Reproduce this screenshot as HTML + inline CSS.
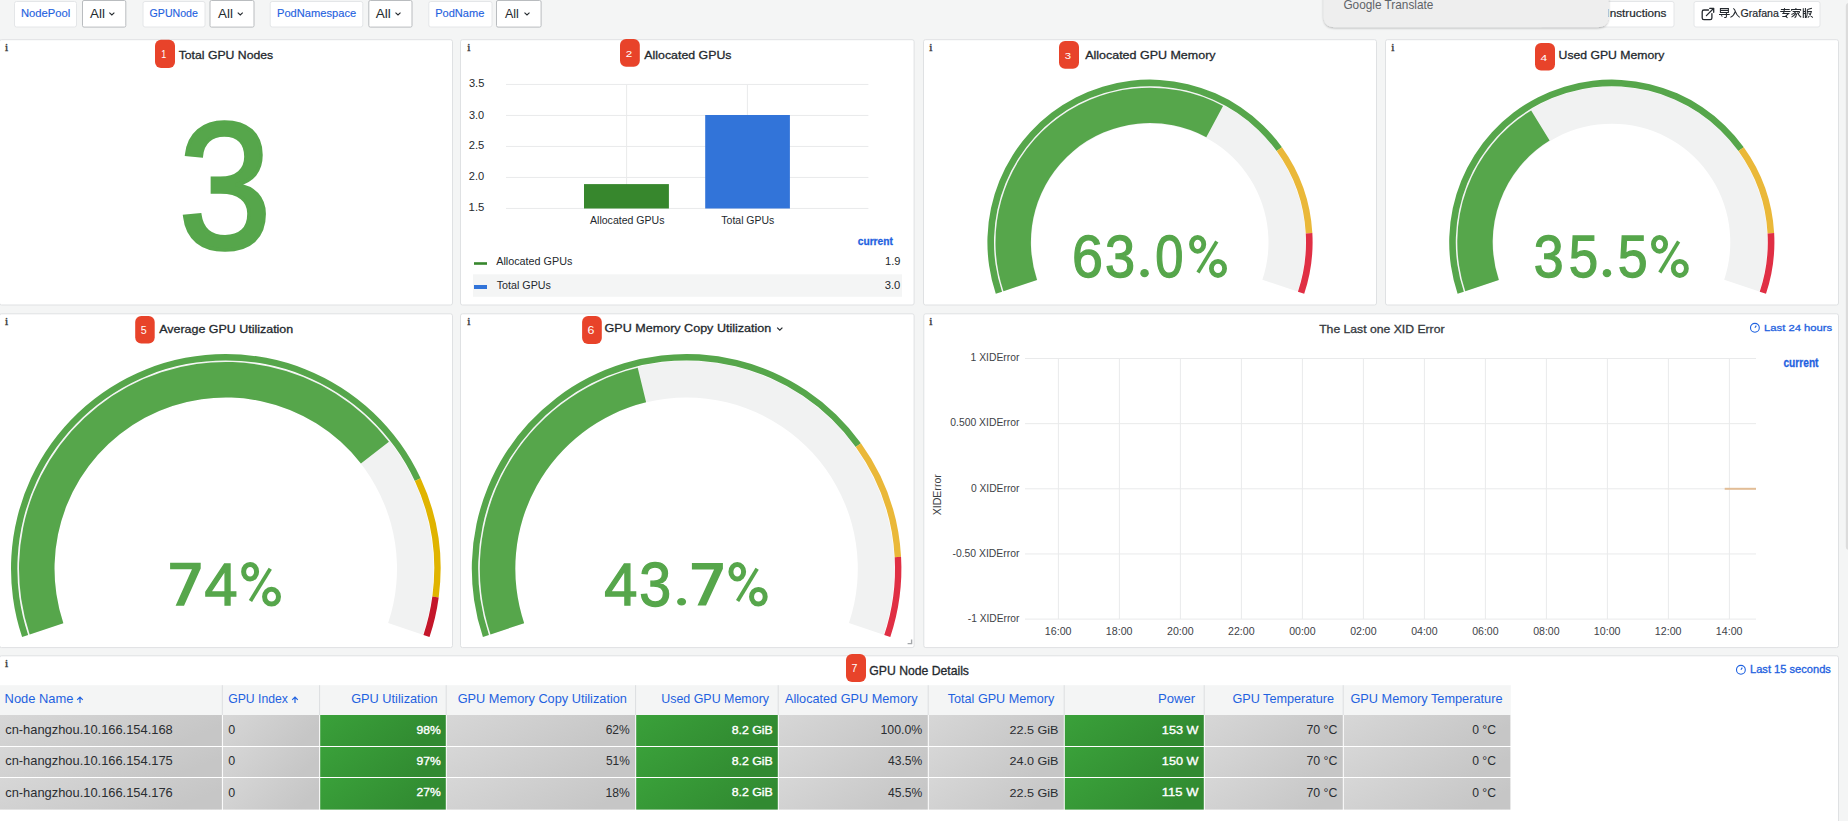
<!DOCTYPE html>
<html><head><meta charset="utf-8"><title>GPU Dashboard</title>
<style>html,body{margin:0;padding:0;width:1848px;height:821px;overflow:hidden;background:#f4f5f5;font-family:"Liberation Sans",sans-serif}svg{display:block}</style>
</head><body>
<svg width="1848" height="821" viewBox="0 0 1848 821">
<rect x="0.00" y="0.00" width="1848.00" height="821.00" rx="0" fill="#f4f5f5" />
<rect x="14.5" y="1.5" width="62" height="25.5" rx="2" fill="#fff" stroke="#e4e6e8" stroke-width="1"/>
<rect x="82.5" y="0.5" width="43.3" height="26.6" rx="1.5" fill="#fff" stroke="#b9bcbf" stroke-width="1"/>
<path d="M109.35 12.7 L111.85 15.0 L114.35 12.7" fill="none" stroke="#24292e" stroke-width="1.1"/>
<rect x="143.0" y="1.5" width="62.0" height="25.5" rx="2" fill="#fff" stroke="#e4e6e8" stroke-width="1"/>
<rect x="210.0" y="0.5" width="44.0" height="26.6" rx="1.5" fill="#fff" stroke="#b9bcbf" stroke-width="1"/>
<path d="M237.75 12.7 L240.25 15.0 L242.75 12.7" fill="none" stroke="#24292e" stroke-width="1.1"/>
<rect x="270.2" y="1.5" width="92.60000000000002" height="25.5" rx="2" fill="#fff" stroke="#e4e6e8" stroke-width="1"/>
<rect x="368.8" y="0.5" width="43.19999999999999" height="26.6" rx="1.5" fill="#fff" stroke="#b9bcbf" stroke-width="1"/>
<path d="M395.50 12.7 L398.00 15.0 L400.50 12.7" fill="none" stroke="#24292e" stroke-width="1.1"/>
<rect x="428.8" y="1.5" width="63.19999999999999" height="25.5" rx="2" fill="#fff" stroke="#e4e6e8" stroke-width="1"/>
<rect x="496.5" y="0.5" width="44.60000000000002" height="26.6" rx="1.5" fill="#fff" stroke="#b9bcbf" stroke-width="1"/>
<path d="M524.50 12.7 L527.00 15.0 L529.50 12.7" fill="none" stroke="#24292e" stroke-width="1.1"/>
<rect x="1540.5" y="1.5" width="133.5" height="25.5" rx="2" fill="#fff" stroke="#e4e6e8"/>
<rect x="1694" y="1.5" width="126" height="25.5" rx="2" fill="#fff" stroke="#e4e6e8"/>
<g fill="none" stroke="#24292e" stroke-width="1.3" stroke-linecap="round" stroke-linejoin="round"><path d="M1708.5 10 H1703.9 Q1702.2 10 1702.2 11.7 V17.9 Q1702.2 19.6 1703.9 19.6 H1710.2 Q1711.9 19.6 1711.9 17.9 V13.6"/><path d="M1706.4 15.6 L1713.5 8.5 M1709.7 8.3 H1713.7 V12.3"/></g>
<g fill="none" stroke="#24292e" stroke-width="1.05" stroke-linecap="butt" stroke-linejoin="miter"><path d="M1720.4 8.6 H1728.4 V12.4 H1720.4 Z M1720.4 10.5 H1728.4 M1719 14.4 H1729.7 M1726.4 12.6 V16.8 Q1726.4 17.4 1725.8 17.4 H1724.2 M1721.2 15.3 L1722.4 16.5"/><path d="M1733.3 8.4 Q1735 9.5 1735.3 11.4 Q1734.2 15.4 1730.4 17.4 M1735.3 11.4 Q1736.6 15.2 1739.7 17.4"/><path d="M1780.9 9.4 H1789.7 M1780.2 11.4 H1790.5 M1784.6 8.2 L1783.6 13.4 M1782.3 13.4 H1788.7 L1785.4 16.4 M1782.3 16.5 H1787 M1785.6 16.4 L1787.6 17.9"/><path d="M1795.9 8.1 V9.4 M1791.6 10.8 V9.4 H1800.6 V10.8 M1792.6 11.5 H1799.8 M1795.8 11.5 Q1794.3 13.6 1791.4 14.5 M1796.2 12.9 Q1794 15.9 1791.5 17.1 M1796.6 13.6 Q1796.2 17 1794.6 17.8 M1797.3 12.6 Q1798.8 15.6 1801.2 17.2 M1799.8 12.2 L1798.4 13.4"/><path d="M1803.3 8.3 V17.9 M1805.4 8.0 V17.9 M1803.3 11.4 H1805.4 M1803.3 13.5 H1806.1 M1807.4 9.4 L1811.9 8.3 M1807.3 9.4 V13 Q1807.1 16.4 1805.9 17.8 M1807.3 11.4 H1811.4 Q1810.9 15.2 1807.8 17.7 M1808.6 12.6 Q1810.3 16.3 1812.9 17.6"/></g>
<defs><filter id="sh" x="-10%" y="-50%" width="120%" height="200%"><feDropShadow dx="0" dy="1" stdDeviation="1.2" flood-color="#000" flood-opacity="0.28"/></filter></defs>
<rect x="1845.8" y="3" width="6" height="546.7" rx="3" fill="#dcdcdc"/>
<rect x="-0.5" y="39.7" width="453" height="265.3" rx="2" fill="#fff" stroke="#dfe1e3"/>
<rect x="460.5" y="39.7" width="453.6" height="265.3" rx="2" fill="#fff" stroke="#dfe1e3"/>
<rect x="923.5" y="39.7" width="453" height="265.3" rx="2" fill="#fff" stroke="#dfe1e3"/>
<rect x="1385.5" y="39.7" width="453" height="265.3" rx="2" fill="#fff" stroke="#dfe1e3"/>
<rect x="-0.5" y="313.8" width="453" height="333.8" rx="2" fill="#fff" stroke="#dfe1e3"/>
<rect x="460.5" y="313.8" width="453.6" height="333.8" rx="2" fill="#fff" stroke="#dfe1e3"/>
<rect x="923.8" y="313.8" width="914.7" height="333.8" rx="2" fill="#fff" stroke="#dfe1e3"/>
<rect x="-0.5" y="655.8" width="1839" height="173.70000000000005" rx="2" fill="#fff" stroke="#dfe1e3"/>
<path d="M777.2 327.6 L779.8 330.2 L782.4 327.6" fill="none" stroke="#24292e" stroke-width="1.2"/>
<line x1="506" y1="84.45" x2="868.4" y2="84.45" stroke="#e9eaeb" stroke-width="1"/>
<line x1="506" y1="115.45" x2="868.4" y2="115.45" stroke="#e9eaeb" stroke-width="1"/>
<line x1="506" y1="146.45" x2="868.4" y2="146.45" stroke="#e9eaeb" stroke-width="1"/>
<line x1="506" y1="177.45" x2="868.4" y2="177.45" stroke="#e9eaeb" stroke-width="1"/>
<line x1="506" y1="208.45" x2="868.4" y2="208.45" stroke="#e9eaeb" stroke-width="1"/>
<line x1="626.6" y1="84.45" x2="626.6" y2="208.45" stroke="#e9eaeb" stroke-width="1"/>
<line x1="747.4" y1="84.45" x2="747.4" y2="208.45" stroke="#e9eaeb" stroke-width="1"/>
<rect x="584.00" y="184.10" width="84.90" height="24.40" rx="0" fill="#37872d" />
<rect x="705.20" y="115.00" width="84.70" height="93.50" rx="0" fill="#3274d9" />
<rect x="474.00" y="262.20" width="13.00" height="2.60" rx="0" fill="#37872d" />
<rect x="473.00" y="274.30" width="429.00" height="22.50" rx="0" fill="#f4f5f5" />
<rect x="474.00" y="285.00" width="13.00" height="4.00" rx="0" fill="#3274d9" />
<path d="M1002.44 291.57 A155.6 155.6 0 1 1 1297.56 291.57 L1262.38 279.80 A118.5 118.5 0 1 0 1037.62 279.80 Z" fill="#f1f2f2"/>
<path d="M1003.48 291.22 A154.5 154.5 0 0 1 1223.03 106.05 L1206.30 137.25 A119.1 119.1 0 0 0 1037.05 279.99 Z" fill="#56a64b"/>
<path d="M995.80 293.79 A162.6 162.6 0 0 1 1281.96 147.20 L1276.61 151.06 A156.0 156.0 0 0 0 1002.06 291.70 Z" fill="#56a64b"/>
<path d="M1281.96 147.20 A162.6 162.6 0 0 1 1312.35 233.12 L1305.76 233.49 A156.0 156.0 0 0 0 1276.61 151.06 Z" fill="#eab839"/>
<path d="M1312.35 233.12 A162.6 162.6 0 0 1 1304.20 293.79 L1297.94 291.70 A156.0 156.0 0 0 0 1305.76 233.49 Z" fill="#e02f44"/>
<path d="M1464.24 291.57 A155.6 155.6 0 1 1 1759.36 291.57 L1724.18 279.80 A118.5 118.5 0 1 0 1499.42 279.80 Z" fill="#f1f2f2"/>
<path d="M1465.28 291.22 A154.5 154.5 0 0 1 1531.15 110.42 L1549.63 140.61 A119.1 119.1 0 0 0 1498.85 279.99 Z" fill="#56a64b"/>
<path d="M1457.60 293.79 A162.6 162.6 0 0 1 1743.76 147.20 L1738.41 151.06 A156.0 156.0 0 0 0 1463.86 291.70 Z" fill="#56a64b"/>
<path d="M1743.76 147.20 A162.6 162.6 0 0 1 1774.15 233.12 L1767.56 233.49 A156.0 156.0 0 0 0 1738.41 151.06 Z" fill="#eab839"/>
<path d="M1774.15 233.12 A162.6 162.6 0 0 1 1766.00 293.79 L1759.74 291.70 A156.0 156.0 0 0 0 1767.56 233.49 Z" fill="#e02f44"/>
<path d="M28.74 634.74 A207.8 207.8 0 1 1 422.86 634.74 L388.15 623.12 A171.2 171.2 0 1 0 63.45 623.12 Z" fill="#f1f2f2"/>
<path d="M29.69 634.42 A206.8 206.8 0 0 1 388.94 441.71 L360.93 463.53 A171.3 171.3 0 0 0 63.35 623.15 Z" fill="#56a64b"/>
<path d="M22.10 636.96 A214.8 214.8 0 0 1 420.63 478.36 L414.83 481.06 A208.4 208.4 0 0 0 28.17 634.93 Z" fill="#56a64b"/>
<path d="M420.63 478.36 A214.8 214.8 0 0 1 438.69 597.39 L432.35 596.54 A208.4 208.4 0 0 0 414.83 481.06 Z" fill="#e0b400"/>
<path d="M438.69 597.39 A214.8 214.8 0 0 1 429.50 636.96 L423.43 634.93 A208.4 208.4 0 0 0 432.35 596.54 Z" fill="#c4162a"/>
<path d="M489.54 634.74 A207.8 207.8 0 1 1 883.66 634.74 L848.95 623.12 A171.2 171.2 0 1 0 524.25 623.12 Z" fill="#f1f2f2"/>
<path d="M490.49 634.42 A206.8 206.8 0 0 1 637.72 367.86 L646.11 402.35 A171.3 171.3 0 0 0 524.15 623.15 Z" fill="#56a64b"/>
<path d="M482.90 636.96 A214.8 214.8 0 0 1 860.93 443.30 L855.73 447.04 A208.4 208.4 0 0 0 488.97 634.93 Z" fill="#56a64b"/>
<path d="M860.93 443.30 A214.8 214.8 0 0 1 901.07 556.81 L894.68 557.17 A208.4 208.4 0 0 0 855.73 447.04 Z" fill="#eab839"/>
<path d="M901.07 556.81 A214.8 214.8 0 0 1 890.30 636.96 L884.23 634.93 A208.4 208.4 0 0 0 894.68 557.17 Z" fill="#e02f44"/>
<ellipse cx="1144.55" cy="273.15" rx="4.25" ry="4.15" fill="#56a64b"/>
<ellipse cx="1197.64" cy="244.30" rx="6.13" ry="6.99" fill="none" stroke="#56a64b" stroke-width="4.82"/>
<ellipse cx="1218.00" cy="268.40" rx="6.59" ry="7.09" fill="none" stroke="#56a64b" stroke-width="4.82"/>
<line x1="1197.97" y1="272.48" x2="1216.80" y2="241.48" stroke="#56a64b" stroke-width="3.65"/>
<ellipse cx="1606.95" cy="273.15" rx="4.25" ry="4.15" fill="#56a64b"/>
<ellipse cx="1659.52" cy="244.30" rx="6.11" ry="6.99" fill="none" stroke="#56a64b" stroke-width="4.82"/>
<ellipse cx="1679.83" cy="268.40" rx="6.56" ry="7.09" fill="none" stroke="#56a64b" stroke-width="4.82"/>
<line x1="1659.84" y1="272.48" x2="1678.63" y2="241.48" stroke="#56a64b" stroke-width="3.65"/>
<polygon points="170.10,562.80 200.70,562.80 200.70,568.59 184.02,605.70 175.61,605.70 191.98,569.24 170.10,569.24" fill="#56a64b"/>
<ellipse cx="250.11" cy="571.67" rx="6.48" ry="7.26" fill="none" stroke="#56a64b" stroke-width="5.01"/>
<ellipse cx="271.53" cy="596.72" rx="6.96" ry="7.38" fill="none" stroke="#56a64b" stroke-width="5.01"/>
<line x1="250.45" y1="600.97" x2="270.27" y2="568.74" stroke="#56a64b" stroke-width="3.80"/>
<ellipse cx="681.60" cy="601.80" rx="4.50" ry="3.80" fill="#56a64b"/>
<polygon points="691.90,563.00 722.90,563.00 722.90,568.75 706.00,605.60 697.48,605.60 714.06,569.39 691.90,569.39" fill="#56a64b"/>
<ellipse cx="737.27" cy="571.75" rx="6.35" ry="7.25" fill="none" stroke="#56a64b" stroke-width="5.00"/>
<ellipse cx="758.37" cy="596.74" rx="6.83" ry="7.36" fill="none" stroke="#56a64b" stroke-width="5.00"/>
<line x1="737.60" y1="600.98" x2="757.13" y2="568.82" stroke="#56a64b" stroke-width="3.79"/>
<path d="M907.6 643.6 H911.6 V639.4" fill="none" stroke="#a4a7aa" stroke-width="1.4"/>
<line x1="1025" y1="358.5" x2="1756" y2="358.5" stroke="#e9eaeb" stroke-width="1"/>
<line x1="1025" y1="423.65" x2="1756" y2="423.65" stroke="#e9eaeb" stroke-width="1"/>
<line x1="1025" y1="488.8" x2="1756" y2="488.8" stroke="#e9eaeb" stroke-width="1"/>
<line x1="1025" y1="553.95" x2="1756" y2="553.95" stroke="#e9eaeb" stroke-width="1"/>
<line x1="1025" y1="619.1" x2="1756" y2="619.1" stroke="#e9eaeb" stroke-width="1"/>
<line x1="1058.40" y1="358.5" x2="1058.40" y2="619.1" stroke="#e9eaeb" stroke-width="1"/>
<line x1="1119.40" y1="358.5" x2="1119.40" y2="619.1" stroke="#e9eaeb" stroke-width="1"/>
<line x1="1180.40" y1="358.5" x2="1180.40" y2="619.1" stroke="#e9eaeb" stroke-width="1"/>
<line x1="1241.40" y1="358.5" x2="1241.40" y2="619.1" stroke="#e9eaeb" stroke-width="1"/>
<line x1="1302.40" y1="358.5" x2="1302.40" y2="619.1" stroke="#e9eaeb" stroke-width="1"/>
<line x1="1363.40" y1="358.5" x2="1363.40" y2="619.1" stroke="#e9eaeb" stroke-width="1"/>
<line x1="1424.40" y1="358.5" x2="1424.40" y2="619.1" stroke="#e9eaeb" stroke-width="1"/>
<line x1="1485.40" y1="358.5" x2="1485.40" y2="619.1" stroke="#e9eaeb" stroke-width="1"/>
<line x1="1546.40" y1="358.5" x2="1546.40" y2="619.1" stroke="#e9eaeb" stroke-width="1"/>
<line x1="1607.40" y1="358.5" x2="1607.40" y2="619.1" stroke="#e9eaeb" stroke-width="1"/>
<line x1="1668.40" y1="358.5" x2="1668.40" y2="619.1" stroke="#e9eaeb" stroke-width="1"/>
<line x1="1729.40" y1="358.5" x2="1729.40" y2="619.1" stroke="#e9eaeb" stroke-width="1"/>
<line x1="1724.7" y1="488.8" x2="1756" y2="488.8" stroke="#e2bd96" stroke-width="2"/>
<g fill="none" stroke="#1f62e0" stroke-width="1.1"><circle cx="1754.9" cy="327.8" r="4.4"/><path d="M1754.9 327.8 L1756.3 325.6"/></g>
<g fill="none" stroke="#1f62e0" stroke-width="1.1"><circle cx="1740.9" cy="669.8" r="4.4"/><path d="M1740.9 669.8 L1742.3 667.6"/></g>
<rect x="0.00" y="685.20" width="1510.80" height="29.80" rx="0" fill="#f4f5f5" />
<defs><linearGradient id="gg" x1="0" y1="0" x2="1" y2="0.35"><stop offset="0" stop-color="#3aa13a"/><stop offset="1" stop-color="#318a31"/></linearGradient><linearGradient id="gy" x1="0" y1="0" x2="1" y2="0.35"><stop offset="0" stop-color="#d7d7d7"/><stop offset="1" stop-color="#c6c6c6"/></linearGradient></defs>
<rect x="0.00" y="715.00" width="221.90" height="31.00" rx="0" fill="url(#gy)" />
<rect x="222.90" y="715.00" width="96.30" height="31.00" rx="0" fill="url(#gy)" />
<rect x="320.20" y="715.00" width="125.60" height="31.00" rx="0" fill="url(#gg)" />
<rect x="446.80" y="715.00" width="188.40" height="31.00" rx="0" fill="url(#gy)" />
<rect x="636.20" y="715.00" width="141.60" height="31.00" rx="0" fill="url(#gg)" />
<rect x="778.80" y="715.00" width="149.00" height="31.00" rx="0" fill="url(#gy)" />
<rect x="928.80" y="715.00" width="135.00" height="31.00" rx="0" fill="url(#gy)" />
<rect x="1064.80" y="715.00" width="139.00" height="31.00" rx="0" fill="url(#gg)" />
<rect x="1204.80" y="715.00" width="138.00" height="31.00" rx="0" fill="url(#gy)" />
<rect x="1343.80" y="715.00" width="166.60" height="31.00" rx="0" fill="url(#gy)" />
<rect x="0.00" y="747.00" width="221.90" height="30.00" rx="0" fill="url(#gy)" />
<rect x="222.90" y="747.00" width="96.30" height="30.00" rx="0" fill="url(#gy)" />
<rect x="320.20" y="747.00" width="125.60" height="30.00" rx="0" fill="url(#gg)" />
<rect x="446.80" y="747.00" width="188.40" height="30.00" rx="0" fill="url(#gy)" />
<rect x="636.20" y="747.00" width="141.60" height="30.00" rx="0" fill="url(#gg)" />
<rect x="778.80" y="747.00" width="149.00" height="30.00" rx="0" fill="url(#gy)" />
<rect x="928.80" y="747.00" width="135.00" height="30.00" rx="0" fill="url(#gy)" />
<rect x="1064.80" y="747.00" width="139.00" height="30.00" rx="0" fill="url(#gg)" />
<rect x="1204.80" y="747.00" width="138.00" height="30.00" rx="0" fill="url(#gy)" />
<rect x="1343.80" y="747.00" width="166.60" height="30.00" rx="0" fill="url(#gy)" />
<rect x="0.00" y="778.00" width="221.90" height="31.60" rx="0" fill="url(#gy)" />
<rect x="222.90" y="778.00" width="96.30" height="31.60" rx="0" fill="url(#gy)" />
<rect x="320.20" y="778.00" width="125.60" height="31.60" rx="0" fill="url(#gg)" />
<rect x="446.80" y="778.00" width="188.40" height="31.60" rx="0" fill="url(#gy)" />
<rect x="636.20" y="778.00" width="141.60" height="31.60" rx="0" fill="url(#gg)" />
<rect x="778.80" y="778.00" width="149.00" height="31.60" rx="0" fill="url(#gy)" />
<rect x="928.80" y="778.00" width="135.00" height="31.60" rx="0" fill="url(#gy)" />
<rect x="1064.80" y="778.00" width="139.00" height="31.60" rx="0" fill="url(#gg)" />
<rect x="1204.80" y="778.00" width="138.00" height="31.60" rx="0" fill="url(#gy)" />
<rect x="1343.80" y="778.00" width="166.60" height="31.60" rx="0" fill="url(#gy)" />
<line x1="222.3" y1="685.2" x2="222.3" y2="715" stroke="#dcdee0" stroke-width="1"/>
<line x1="319.6" y1="685.2" x2="319.6" y2="715" stroke="#dcdee0" stroke-width="1"/>
<line x1="446.2" y1="685.2" x2="446.2" y2="715" stroke="#dcdee0" stroke-width="1"/>
<line x1="635.6" y1="685.2" x2="635.6" y2="715" stroke="#dcdee0" stroke-width="1"/>
<line x1="778.2" y1="685.2" x2="778.2" y2="715" stroke="#dcdee0" stroke-width="1"/>
<line x1="928.2" y1="685.2" x2="928.2" y2="715" stroke="#dcdee0" stroke-width="1"/>
<line x1="1064.2" y1="685.2" x2="1064.2" y2="715" stroke="#dcdee0" stroke-width="1"/>
<line x1="1204.2" y1="685.2" x2="1204.2" y2="715" stroke="#dcdee0" stroke-width="1"/>
<line x1="1343.2" y1="685.2" x2="1343.2" y2="715" stroke="#dcdee0" stroke-width="1"/>
<g fill="none" stroke="#1f62e0" stroke-width="1.2"><path d="M80 703 V697.2 M77.2 699.8 L80 697 L82.8 699.8"/></g>
<g fill="none" stroke="#1f62e0" stroke-width="1.2"><path d="M295 703 V697.2 M292.2 699.8 L295 697 L297.8 699.8"/></g>
<rect x="155.00" y="39.75" width="20.00" height="28.15" rx="6" fill="#e8432a" />
<rect x="620.00" y="38.90" width="19.80" height="27.90" rx="6" fill="#e8432a" />
<rect x="1059.00" y="41.00" width="20.00" height="27.80" rx="6" fill="#e8432a" />
<rect x="1535.00" y="43.00" width="20.00" height="27.50" rx="6" fill="#e8432a" />
<rect x="135.20" y="316.00" width="19.50" height="27.60" rx="6" fill="#e8432a" />
<rect x="582.10" y="316.00" width="19.70" height="27.90" rx="6" fill="#e8432a" />
<rect x="846.00" y="654.00" width="20.00" height="27.90" rx="6" fill="#e8432a" />
<text x="20.90" y="16.93" font-family="Liberation Sans" font-size="11.779" fill="#1f62e0" stroke="#1f62e0" stroke-width="0.15" textLength="49.27" lengthAdjust="spacingAndGlyphs">NodePool</text>
<text x="90.00" y="17.90" font-family="Liberation Sans" font-size="13.685" fill="#24292e" textLength="14.88" lengthAdjust="spacingAndGlyphs">All</text>
<text x="149.58" y="16.93" font-family="Liberation Sans" font-size="11.779" fill="#1f62e0" stroke="#1f62e0" stroke-width="0.15" textLength="48.28" lengthAdjust="spacingAndGlyphs">GPUNode</text>
<text x="218.00" y="17.90" font-family="Liberation Sans" font-size="13.685" fill="#24292e" textLength="14.88" lengthAdjust="spacingAndGlyphs">All</text>
<text x="277.01" y="16.93" font-family="Liberation Sans" font-size="11.779" fill="#1f62e0" stroke="#1f62e0" stroke-width="0.15" textLength="79.17" lengthAdjust="spacingAndGlyphs">PodNamespace</text>
<text x="375.80" y="17.90" font-family="Liberation Sans" font-size="13.685" fill="#24292e" textLength="15.10" lengthAdjust="spacingAndGlyphs">All</text>
<text x="435.21" y="16.93" font-family="Liberation Sans" font-size="11.779" fill="#1f62e0" stroke="#1f62e0" stroke-width="0.15" textLength="49.16" lengthAdjust="spacingAndGlyphs">PodName</text>
<text x="505.00" y="17.90" font-family="Liberation Sans" font-size="13.685" fill="#24292e" textLength="13.82" lengthAdjust="spacingAndGlyphs">All</text>
<text x="1606.38" y="16.60" font-family="Liberation Sans" font-size="10.621" fill="#24292e" stroke="#24292e" stroke-width="0.2" textLength="60.09" lengthAdjust="spacingAndGlyphs">Instructions</text>
<text x="1740.60" y="16.75" font-family="Liberation Sans" font-size="11.697" fill="#24292e" stroke="#24292e" stroke-width="0.2" textLength="38.23" lengthAdjust="spacingAndGlyphs">Grafana</text>
<text x="4.90" y="50.83" font-family="Liberation Serif" font-size="9.898" fill="#3a3a3a" stroke="#3a3a3a" stroke-width="0.35" textLength="3.17" lengthAdjust="spacingAndGlyphs">i</text>
<text x="467.20" y="50.83" font-family="Liberation Serif" font-size="9.898" fill="#3a3a3a" stroke="#3a3a3a" stroke-width="0.35" textLength="3.17" lengthAdjust="spacingAndGlyphs">i</text>
<text x="929.20" y="50.83" font-family="Liberation Serif" font-size="9.898" fill="#3a3a3a" stroke="#3a3a3a" stroke-width="0.35" textLength="3.17" lengthAdjust="spacingAndGlyphs">i</text>
<text x="1391.20" y="50.83" font-family="Liberation Serif" font-size="9.898" fill="#3a3a3a" stroke="#3a3a3a" stroke-width="0.35" textLength="3.17" lengthAdjust="spacingAndGlyphs">i</text>
<text x="4.90" y="324.82" font-family="Liberation Serif" font-size="9.898" fill="#3a3a3a" stroke="#3a3a3a" stroke-width="0.35" textLength="3.17" lengthAdjust="spacingAndGlyphs">i</text>
<text x="467.20" y="324.82" font-family="Liberation Serif" font-size="9.898" fill="#3a3a3a" stroke="#3a3a3a" stroke-width="0.35" textLength="3.17" lengthAdjust="spacingAndGlyphs">i</text>
<text x="929.20" y="325.43" font-family="Liberation Serif" font-size="9.898" fill="#3a3a3a" stroke="#3a3a3a" stroke-width="0.35" textLength="3.17" lengthAdjust="spacingAndGlyphs">i</text>
<text x="4.90" y="666.83" font-family="Liberation Serif" font-size="9.898" fill="#3a3a3a" stroke="#3a3a3a" stroke-width="0.35" textLength="3.17" lengthAdjust="spacingAndGlyphs">i</text>
<text x="161.13" y="57.80" font-family="Liberation Sans" font-size="11.093" fill="#fff" textLength="5.03" lengthAdjust="spacingAndGlyphs">1</text>
<text x="625.71" y="56.70" font-family="Liberation Sans" font-size="9.884" fill="#fff" textLength="6.47" lengthAdjust="spacingAndGlyphs">2</text>
<text x="1064.65" y="59.00" font-family="Liberation Sans" font-size="9.956" fill="#fff" textLength="6.32" lengthAdjust="spacingAndGlyphs">3</text>
<text x="1540.61" y="60.80" font-family="Liberation Sans" font-size="9.671" fill="#fff" textLength="6.69" lengthAdjust="spacingAndGlyphs">4</text>
<text x="140.66" y="333.90" font-family="Liberation Sans" font-size="10.382" fill="#fff" textLength="5.97" lengthAdjust="spacingAndGlyphs">5</text>
<text x="587.42" y="333.80" font-family="Liberation Sans" font-size="10.098" fill="#fff" textLength="6.88" lengthAdjust="spacingAndGlyphs">6</text>
<text x="851.40" y="671.90" font-family="Liberation Sans" font-size="11.591" fill="#fff" textLength="5.93" lengthAdjust="spacingAndGlyphs">7</text>
<text x="178.71" y="58.55" font-family="Liberation Sans" font-size="11.779" fill="#24292e" stroke="#24292e" stroke-width="0.3" textLength="94.52" lengthAdjust="spacingAndGlyphs">Total GPU Nodes</text>
<text x="644.35" y="58.55" font-family="Liberation Sans" font-size="11.779" fill="#24292e" stroke="#24292e" stroke-width="0.3" textLength="87.14" lengthAdjust="spacingAndGlyphs">Allocated GPUs</text>
<text x="1085.15" y="58.65" font-family="Liberation Sans" font-size="11.574" fill="#24292e" stroke="#24292e" stroke-width="0.3" textLength="130.40" lengthAdjust="spacingAndGlyphs">Allocated GPU Memory</text>
<text x="1558.59" y="58.55" font-family="Liberation Sans" font-size="11.779" fill="#24292e" stroke="#24292e" stroke-width="0.3" textLength="105.86" lengthAdjust="spacingAndGlyphs">Used GPU Memory</text>
<text x="159.15" y="332.75" font-family="Liberation Sans" font-size="11.574" fill="#24292e" stroke="#24292e" stroke-width="0.3" textLength="134.10" lengthAdjust="spacingAndGlyphs">Average GPU Utilization</text>
<text x="604.56" y="332.45" font-family="Liberation Sans" font-size="11.302" fill="#24292e" stroke="#24292e" stroke-width="0.3" textLength="166.79" lengthAdjust="spacingAndGlyphs">GPU Memory Copy Utilization</text>
<text x="1319.16" y="332.60" font-family="Liberation Sans" font-size="11.234" fill="#34383d" stroke="#34383d" stroke-width="0.3" textLength="125.35" lengthAdjust="spacingAndGlyphs">The Last one XID Error</text>
<text x="869.33" y="674.60" font-family="Liberation Sans" font-size="12.051" fill="#24292e" stroke="#24292e" stroke-width="0.3" textLength="99.65" lengthAdjust="spacingAndGlyphs">GPU Node Details</text>
<text x="178.25" y="248.20" font-family="Liberation Sans" font-size="180.196" fill="#56a64b" stroke="#56a64b" stroke-width="3.6" textLength="93.35" lengthAdjust="spacingAndGlyphs">3</text>
<text x="468.95" y="86.80" font-family="Liberation Sans" font-size="10.809" fill="#24292e" textLength="15.39" lengthAdjust="spacingAndGlyphs">3.5</text>
<text x="468.96" y="118.70" font-family="Liberation Sans" font-size="11.093" fill="#24292e" textLength="15.21" lengthAdjust="spacingAndGlyphs">3.0</text>
<text x="468.77" y="148.70" font-family="Liberation Sans" font-size="10.951" fill="#24292e" textLength="15.58" lengthAdjust="spacingAndGlyphs">2.5</text>
<text x="468.78" y="179.80" font-family="Liberation Sans" font-size="11.520" fill="#24292e" textLength="15.39" lengthAdjust="spacingAndGlyphs">2.0</text>
<text x="468.59" y="210.60" font-family="Liberation Sans" font-size="11.520" fill="#24292e" textLength="15.77" lengthAdjust="spacingAndGlyphs">1.5</text>
<text x="590.00" y="224.00" font-family="Liberation Sans" font-size="10.894" fill="#24292e" textLength="74.53" lengthAdjust="spacingAndGlyphs">Allocated GPUs</text>
<text x="721.34" y="224.00" font-family="Liberation Sans" font-size="10.894" fill="#24292e" textLength="52.99" lengthAdjust="spacingAndGlyphs">Total GPUs</text>
<text x="857.73" y="244.95" font-family="Liberation Sans" font-size="10.971" fill="#1f62e0" font-weight="bold" stroke="#1f62e0" stroke-width="0.3" textLength="35.17" lengthAdjust="spacingAndGlyphs">current</text>
<text x="496.25" y="265.00" font-family="Liberation Sans" font-size="10.553" fill="#24292e" textLength="76.09" lengthAdjust="spacingAndGlyphs">Allocated GPUs</text>
<text x="885.01" y="264.80" font-family="Liberation Sans" font-size="10.667" fill="#24292e" textLength="15.44" lengthAdjust="spacingAndGlyphs">1.9</text>
<text x="496.73" y="288.75" font-family="Liberation Sans" font-size="11.098" fill="#24292e" textLength="54.20" lengthAdjust="spacingAndGlyphs">Total GPUs</text>
<text x="884.65" y="288.70" font-family="Liberation Sans" font-size="10.951" fill="#24292e" textLength="15.63" lengthAdjust="spacingAndGlyphs">3.0</text>
<text x="1071.94" y="277.25" font-family="Liberation Sans" font-size="59.307" fill="#56a64b" stroke="#56a64b" stroke-width="1.3" textLength="30.97" lengthAdjust="spacingAndGlyphs">6</text>
<text x="1104.96" y="277.25" font-family="Liberation Sans" font-size="59.307" fill="#56a64b" stroke="#56a64b" stroke-width="1.3" textLength="30.08" lengthAdjust="spacingAndGlyphs">3</text>
<text x="1155.17" y="277.25" font-family="Liberation Sans" font-size="59.307" fill="#56a64b" stroke="#56a64b" stroke-width="1.3" textLength="28.14" lengthAdjust="spacingAndGlyphs">0</text>
<text x="1533.87" y="277.25" font-family="Liberation Sans" font-size="59.307" fill="#56a64b" stroke="#56a64b" stroke-width="1.3" textLength="29.85" lengthAdjust="spacingAndGlyphs">3</text>
<text x="1568.70" y="277.25" font-family="Liberation Sans" font-size="58.453" fill="#56a64b" stroke="#56a64b" stroke-width="1.3" textLength="29.39" lengthAdjust="spacingAndGlyphs">5</text>
<text x="1617.67" y="277.25" font-family="Liberation Sans" font-size="58.453" fill="#56a64b" stroke="#56a64b" stroke-width="1.3" textLength="29.85" lengthAdjust="spacingAndGlyphs">5</text>
<text x="204.52" y="605.05" font-family="Liberation Sans" font-size="59.164" fill="#56a64b" stroke="#56a64b" stroke-width="1.3" textLength="33.01" lengthAdjust="spacingAndGlyphs">4</text>
<text x="604.22" y="604.95" font-family="Liberation Sans" font-size="58.738" fill="#56a64b" stroke="#56a64b" stroke-width="1.3" textLength="33.11" lengthAdjust="spacingAndGlyphs">4</text>
<text x="639.36" y="606.35" font-family="Liberation Sans" font-size="62.151" fill="#56a64b" stroke="#56a64b" stroke-width="1.3" textLength="31.92" lengthAdjust="spacingAndGlyphs">3</text>
<text x="970.60" y="361.30" font-family="Liberation Sans" font-size="11.804" fill="#3d4247" textLength="48.85" lengthAdjust="spacingAndGlyphs">1 XIDError</text>
<text x="950.28" y="426.45" font-family="Liberation Sans" font-size="11.804" fill="#3d4247" textLength="69.17" lengthAdjust="spacingAndGlyphs">0.500 XIDError</text>
<text x="970.88" y="491.60" font-family="Liberation Sans" font-size="11.804" fill="#3d4247" textLength="48.57" lengthAdjust="spacingAndGlyphs">0 XIDError</text>
<text x="952.43" y="556.75" font-family="Liberation Sans" font-size="11.804" fill="#3d4247" textLength="67.03" lengthAdjust="spacingAndGlyphs">-0.50 XIDError</text>
<text x="967.78" y="621.90" font-family="Liberation Sans" font-size="11.804" fill="#3d4247" textLength="51.67" lengthAdjust="spacingAndGlyphs">-1 XIDError</text>
<text x="1044.83" y="635.00" font-family="Liberation Sans" font-size="11.520" fill="#3d4247" textLength="26.73" lengthAdjust="spacingAndGlyphs">16:00</text>
<text x="1105.83" y="635.00" font-family="Liberation Sans" font-size="11.520" fill="#3d4247" textLength="26.73" lengthAdjust="spacingAndGlyphs">18:00</text>
<text x="1167.00" y="635.00" font-family="Liberation Sans" font-size="11.520" fill="#3d4247" textLength="26.56" lengthAdjust="spacingAndGlyphs">20:00</text>
<text x="1228.00" y="635.00" font-family="Liberation Sans" font-size="11.520" fill="#3d4247" textLength="26.56" lengthAdjust="spacingAndGlyphs">22:00</text>
<text x="1289.17" y="635.00" font-family="Liberation Sans" font-size="11.520" fill="#3d4247" textLength="26.39" lengthAdjust="spacingAndGlyphs">00:00</text>
<text x="1350.17" y="635.00" font-family="Liberation Sans" font-size="11.520" fill="#3d4247" textLength="26.39" lengthAdjust="spacingAndGlyphs">02:00</text>
<text x="1411.17" y="635.00" font-family="Liberation Sans" font-size="11.520" fill="#3d4247" textLength="26.39" lengthAdjust="spacingAndGlyphs">04:00</text>
<text x="1472.17" y="635.00" font-family="Liberation Sans" font-size="11.520" fill="#3d4247" textLength="26.39" lengthAdjust="spacingAndGlyphs">06:00</text>
<text x="1533.17" y="635.00" font-family="Liberation Sans" font-size="11.520" fill="#3d4247" textLength="26.39" lengthAdjust="spacingAndGlyphs">08:00</text>
<text x="1593.83" y="635.00" font-family="Liberation Sans" font-size="11.520" fill="#3d4247" textLength="26.73" lengthAdjust="spacingAndGlyphs">10:00</text>
<text x="1654.83" y="635.00" font-family="Liberation Sans" font-size="11.520" fill="#3d4247" textLength="26.73" lengthAdjust="spacingAndGlyphs">12:00</text>
<text x="1715.83" y="635.00" font-family="Liberation Sans" font-size="11.520" fill="#3d4247" textLength="26.73" lengthAdjust="spacingAndGlyphs">14:00</text>
<text x="1783.43" y="366.85" font-family="Liberation Sans" font-size="12.251" fill="#1f62e0" font-weight="bold" stroke="#1f62e0" stroke-width="0.3" textLength="35.07" lengthAdjust="spacingAndGlyphs">current</text>
<text x="-0.17" y="0.00" font-family="Liberation Sans" font-size="11.378" fill="#3a3e43" transform="translate(941.2,515.2) rotate(-90)" textLength="41.22" lengthAdjust="spacingAndGlyphs">XIDError</text>
<text x="1764.07" y="330.65" font-family="Liberation Sans" font-size="9.804" fill="#1f62e0" stroke="#1f62e0" stroke-width="0.3" textLength="68.13" lengthAdjust="spacingAndGlyphs">Last 24 hours</text>
<text x="1749.98" y="672.55" font-family="Liberation Sans" font-size="10.077" fill="#1f62e0" stroke="#1f62e0" stroke-width="0.3" textLength="80.92" lengthAdjust="spacingAndGlyphs">Last 15 seconds</text>
<text x="4.59" y="703.10" font-family="Liberation Sans" font-size="12.732" fill="#1f62e0" textLength="68.93" lengthAdjust="spacingAndGlyphs">Node Name</text>
<text x="228.18" y="703.10" font-family="Liberation Sans" font-size="12.732" fill="#1f62e0" textLength="59.82" lengthAdjust="spacingAndGlyphs">GPU Index</text>
<text x="351.15" y="703.10" font-family="Liberation Sans" font-size="12.732" fill="#1f62e0" textLength="86.57" lengthAdjust="spacingAndGlyphs">GPU Utilization</text>
<text x="457.65" y="703.10" font-family="Liberation Sans" font-size="12.732" fill="#1f62e0" textLength="169.31" lengthAdjust="spacingAndGlyphs">GPU Memory Copy Utilization</text>
<text x="661.22" y="703.10" font-family="Liberation Sans" font-size="12.732" fill="#1f62e0" textLength="107.78" lengthAdjust="spacingAndGlyphs">Used GPU Memory</text>
<text x="785.00" y="703.10" font-family="Liberation Sans" font-size="12.732" fill="#1f62e0" textLength="132.50" lengthAdjust="spacingAndGlyphs">Allocated GPU Memory</text>
<text x="947.80" y="703.10" font-family="Liberation Sans" font-size="12.732" fill="#1f62e0" textLength="106.45" lengthAdjust="spacingAndGlyphs">Total GPU Memory</text>
<text x="1157.98" y="703.10" font-family="Liberation Sans" font-size="13.298" fill="#1f62e0" textLength="37.09" lengthAdjust="spacingAndGlyphs">Power</text>
<text x="1232.41" y="703.10" font-family="Liberation Sans" font-size="13.298" fill="#1f62e0" textLength="101.60" lengthAdjust="spacingAndGlyphs">GPU Temperature</text>
<text x="1350.40" y="703.10" font-family="Liberation Sans" font-size="13.298" fill="#1f62e0" textLength="152.11" lengthAdjust="spacingAndGlyphs">GPU Memory Temperature</text>
<text x="5.20" y="734.00" font-family="Liberation Sans" font-size="13.072" fill="#2a2d31" textLength="167.57" lengthAdjust="spacingAndGlyphs">cn-hangzhou.10.166.154.168</text>
<text x="228.36" y="734.00" font-family="Liberation Sans" font-size="12.231" fill="#2a2d31" textLength="6.95" lengthAdjust="spacingAndGlyphs">0</text>
<text x="416.51" y="733.83" font-family="Liberation Sans" font-size="11.733" fill="#fff" stroke="#fff" stroke-width="0.35" textLength="24.28" lengthAdjust="spacingAndGlyphs">98%</text>
<text x="605.69" y="734.00" font-family="Liberation Sans" font-size="12.231" fill="#2a2d31" textLength="24.07" lengthAdjust="spacingAndGlyphs">62%</text>
<text x="731.69" y="733.83" font-family="Liberation Sans" font-size="11.234" fill="#fff" stroke="#fff" stroke-width="0.35" textLength="41.15" lengthAdjust="spacingAndGlyphs">8.2 GiB</text>
<text x="880.48" y="734.00" font-family="Liberation Sans" font-size="12.231" fill="#2a2d31" textLength="41.89" lengthAdjust="spacingAndGlyphs">100.0%</text>
<text x="1009.41" y="734.00" font-family="Liberation Sans" font-size="11.711" fill="#2a2d31" textLength="49.12" lengthAdjust="spacingAndGlyphs">22.5 GiB</text>
<text x="1161.88" y="733.83" font-family="Liberation Sans" font-size="11.733" fill="#fff" stroke="#fff" stroke-width="0.35" textLength="36.57" lengthAdjust="spacingAndGlyphs">153 W</text>
<text x="1306.42" y="734.00" font-family="Liberation Sans" font-size="12.231" fill="#2a2d31" textLength="31.01" lengthAdjust="spacingAndGlyphs">70 °C</text>
<text x="1472.22" y="734.00" font-family="Liberation Sans" font-size="12.231" fill="#2a2d31" textLength="23.80" lengthAdjust="spacingAndGlyphs">0 °C</text>
<text x="5.20" y="764.75" font-family="Liberation Sans" font-size="13.072" fill="#2a2d31" textLength="167.57" lengthAdjust="spacingAndGlyphs">cn-hangzhou.10.166.154.175</text>
<text x="228.36" y="764.75" font-family="Liberation Sans" font-size="12.231" fill="#2a2d31" textLength="6.95" lengthAdjust="spacingAndGlyphs">0</text>
<text x="416.51" y="764.58" font-family="Liberation Sans" font-size="11.733" fill="#fff" stroke="#fff" stroke-width="0.35" textLength="24.28" lengthAdjust="spacingAndGlyphs">97%</text>
<text x="605.88" y="764.75" font-family="Liberation Sans" font-size="12.231" fill="#2a2d31" textLength="23.88" lengthAdjust="spacingAndGlyphs">51%</text>
<text x="731.69" y="764.58" font-family="Liberation Sans" font-size="11.234" fill="#fff" stroke="#fff" stroke-width="0.35" textLength="41.15" lengthAdjust="spacingAndGlyphs">8.2 GiB</text>
<text x="888.01" y="764.75" font-family="Liberation Sans" font-size="12.231" fill="#2a2d31" textLength="34.35" lengthAdjust="spacingAndGlyphs">43.5%</text>
<text x="1009.41" y="764.75" font-family="Liberation Sans" font-size="11.711" fill="#2a2d31" textLength="49.12" lengthAdjust="spacingAndGlyphs">24.0 GiB</text>
<text x="1161.88" y="764.58" font-family="Liberation Sans" font-size="11.733" fill="#fff" stroke="#fff" stroke-width="0.35" textLength="36.57" lengthAdjust="spacingAndGlyphs">150 W</text>
<text x="1306.42" y="764.75" font-family="Liberation Sans" font-size="12.231" fill="#2a2d31" textLength="31.01" lengthAdjust="spacingAndGlyphs">70 °C</text>
<text x="1472.22" y="764.75" font-family="Liberation Sans" font-size="12.231" fill="#2a2d31" textLength="23.80" lengthAdjust="spacingAndGlyphs">0 °C</text>
<text x="5.20" y="796.50" font-family="Liberation Sans" font-size="13.072" fill="#2a2d31" textLength="167.57" lengthAdjust="spacingAndGlyphs">cn-hangzhou.10.166.154.176</text>
<text x="228.36" y="796.50" font-family="Liberation Sans" font-size="12.231" fill="#2a2d31" textLength="6.95" lengthAdjust="spacingAndGlyphs">0</text>
<text x="416.51" y="796.33" font-family="Liberation Sans" font-size="11.733" fill="#fff" stroke="#fff" stroke-width="0.35" textLength="24.28" lengthAdjust="spacingAndGlyphs">27%</text>
<text x="605.49" y="796.50" font-family="Liberation Sans" font-size="12.231" fill="#2a2d31" textLength="24.27" lengthAdjust="spacingAndGlyphs">18%</text>
<text x="731.69" y="796.33" font-family="Liberation Sans" font-size="11.234" fill="#fff" stroke="#fff" stroke-width="0.35" textLength="41.15" lengthAdjust="spacingAndGlyphs">8.2 GiB</text>
<text x="888.01" y="796.50" font-family="Liberation Sans" font-size="12.231" fill="#2a2d31" textLength="34.35" lengthAdjust="spacingAndGlyphs">45.5%</text>
<text x="1009.41" y="796.50" font-family="Liberation Sans" font-size="11.711" fill="#2a2d31" textLength="49.12" lengthAdjust="spacingAndGlyphs">22.5 GiB</text>
<text x="1161.86" y="796.33" font-family="Liberation Sans" font-size="11.733" fill="#fff" stroke="#fff" stroke-width="0.35" textLength="36.59" lengthAdjust="spacingAndGlyphs">115 W</text>
<text x="1306.42" y="796.50" font-family="Liberation Sans" font-size="12.231" fill="#2a2d31" textLength="31.01" lengthAdjust="spacingAndGlyphs">70 °C</text>
<text x="1472.22" y="796.50" font-family="Liberation Sans" font-size="12.231" fill="#2a2d31" textLength="23.80" lengthAdjust="spacingAndGlyphs">0 °C</text>
<path d="M1323.5 -10 H1608.6 V15.5 Q1608.6 27.3 1597 27.3 H1335 Q1323.5 27.3 1323.5 15.5 Z" fill="#eeeeee" filter="url(#sh)"/>
<text x="1343.45" y="8.75" font-family="Liberation Sans" font-size="13.549" fill="#5f6368" textLength="89.93" lengthAdjust="spacingAndGlyphs">Google Translate</text>

</svg>
</body></html>
